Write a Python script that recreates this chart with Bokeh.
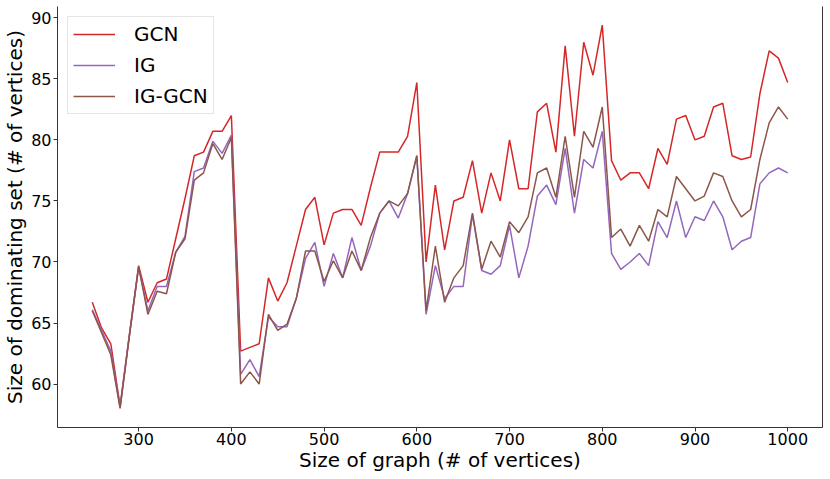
from bokeh.plotting import figure
from bokeh.models import Range1d, FixedTicker, LinearAxis, Legend, LegendItem
from bokeh.embed import file_html
from bokeh.resources import INLINE

sizes = [250, 260, 270, 280, 290, 300, 310, 320, 330, 340,
         350, 360, 370, 380, 390, 400, 410, 420, 430, 440,
         450, 460, 470, 480, 490, 500, 510, 520, 530, 540,
         550, 560, 570, 580, 590, 600, 610, 620, 630, 640,
         650, 660, 670, 680, 690, 700, 710, 720, 730, 740,
         750, 760, 770, 780, 790, 800, 810, 820, 830, 840,
         850, 860, 870, 880, 890, 900, 910, 920, 930, 940,
         950, 960, 970, 980, 990, 1000]

gcn = [66.7, 64.6, 63.3, 58.2, 64.0, 69.7, 66.7, 68.3, 68.6, 71.9,
       75.2, 78.7, 79.0, 80.7, 80.7, 82.0, 62.7, 63.0, 63.3, 68.7,
       66.8, 68.3, 71.3, 74.3, 75.3, 71.4, 74.0, 74.3, 74.3, 73.0,
       76.1, 79.0, 79.0, 79.0, 80.3, 84.7, 70.0, 76.3, 71.0, 75.0,
       75.3, 78.3, 74.0, 77.3, 75.0, 80.0, 76.0, 76.0, 82.3, 83.0,
       79.0, 87.7, 80.3, 88.0, 85.3, 89.4, 78.3, 76.7, 77.3, 77.3,
       76.0, 79.3, 78.0, 81.7, 82.0, 80.0, 80.3, 82.7, 83.0, 78.7,
       78.4, 78.6, 83.8, 87.3, 86.7, 84.7]

ig = [66.1, 64.4, 62.7, 58.1, 64.0, 69.6, 66.0, 68.0, 68.0, 70.8,
      72.1, 77.4, 77.7, 79.9, 78.9, 80.4, 60.8, 62.0, 60.6, 65.5,
      64.7, 64.7, 67.0, 70.3, 71.6, 68.0, 70.7, 68.7, 72.0, 69.3,
      71.3, 74.0, 75.0, 73.6, 75.6, 78.7, 65.7, 69.7, 67.0, 68.0,
      68.0, 73.9, 69.3, 69.0, 69.7, 73.0, 68.7, 71.3, 75.4, 76.3,
      74.7, 79.3, 74.0, 78.4, 77.7, 80.7, 70.7, 69.4, 70.0, 70.7,
      69.7, 73.3, 72.0, 75.0, 72.0, 73.7, 73.4, 75.0, 73.7, 71.0,
      71.7, 72.0, 76.4, 77.3, 77.7, 77.3]

ig_gcn = [66.0, 64.2, 62.4, 58.0, 63.9, 69.6, 65.7, 67.6, 67.4, 70.8,
          71.9, 76.7, 77.3, 79.7, 78.4, 80.2, 60.0, 61.0, 60.0, 65.7,
          64.4, 64.9, 67.0, 70.9, 70.9, 68.4, 70.1, 68.7, 70.9, 69.3,
          72.0, 74.0, 75.0, 74.6, 75.6, 78.7, 66.0, 71.3, 66.7, 68.7,
          69.7, 74.0, 69.4, 71.7, 70.4, 73.3, 72.4, 73.7, 77.3, 77.7,
          75.3, 80.3, 75.3, 80.7, 79.4, 82.7, 72.0, 72.7, 71.3, 73.0,
          71.7, 74.3, 73.7, 77.0, 76.0, 75.0, 75.4, 77.3, 77.0, 75.0,
          73.7, 74.3, 78.4, 81.4, 82.7, 81.7]

series_names = ["GCN", "IG", "IG-GCN"]
series_colors = ["#d62728", "#9467bd", "#8c564b"]
x_ticks = [300, 400, 500, 600, 700, 800, 900, 1000]
y_ticks = [60, 65, 70, 75, 80, 85, 90]

FONT = "DejaVu Sans"
SPINE = "#333333"

p = figure(frame_width=765, frame_height=421,
           x_range=Range1d(212.5, 1037.5), y_range=Range1d(56.44, 90.93),
           output_backend="svg", toolbar_location=None,
           min_border_top=6, min_border_right=2, min_border_left=0, min_border_bottom=0)
p.xgrid.visible = False
p.ygrid.visible = False
p.outline_line_color = None
p.background_fill_color = "white"
p.border_fill_color = "white"

for ax, ticks in ((p.xaxis[0], x_ticks), (p.yaxis[0], y_ticks)):
    ax.ticker = FixedTicker(ticks=ticks)
    ax.minor_tick_line_color = None
    ax.major_tick_in = 0
    ax.major_tick_out = 4
    ax.major_tick_line_color = SPINE
    ax.axis_line_color = SPINE
    ax.axis_line_width = 1
    ax.major_label_text_font = FONT
    ax.major_label_text_font_size = "16px"
    ax.major_label_text_color = "black"
    ax.axis_label_text_font = FONT
    ax.axis_label_text_font_size = "20px"
    ax.axis_label_text_font_style = "normal"
    ax.axis_label_text_color = "black"

p.xaxis[0].axis_label = "Size of graph (# of vertices)"
p.xaxis[0].major_label_standoff = 1
p.xaxis[0].axis_label_standoff = 0
p.yaxis[0].axis_label = "Size of dominating set (# of vertices)"
p.yaxis[0].major_label_standoff = 2
p.yaxis[0].axis_label_standoff = 1

right = LinearAxis(ticker=FixedTicker(ticks=[]), axis_line_color=SPINE,
                   major_tick_line_color=None, minor_tick_line_color=None,
                   major_label_text_font_size="0px")
p.add_layout(right, "right")

items = []
for vals, name, col in zip([gcn, ig, ig_gcn], series_names, series_colors):
    r = p.line(sizes, vals, line_color=col, line_width=1.5)
    items.append(LegendItem(label=name, renderers=[r]))

legend = Legend(items=items, location="top_left")
legend.margin = 10
legend.padding = 5
legend.spacing = 7
legend.glyph_width = 42
legend.glyph_height = 24
legend.label_height = 24
legend.label_standoff = 19
legend.label_text_font = FONT
legend.label_text_font_size = "20px"
legend.label_text_color = "black"
legend.border_line_color = "#cccccc"
legend.border_line_width = 1
legend.background_fill_alpha = 0.8
p.add_layout(legend)

open("out.html", "w").write(file_html(p, INLINE))
